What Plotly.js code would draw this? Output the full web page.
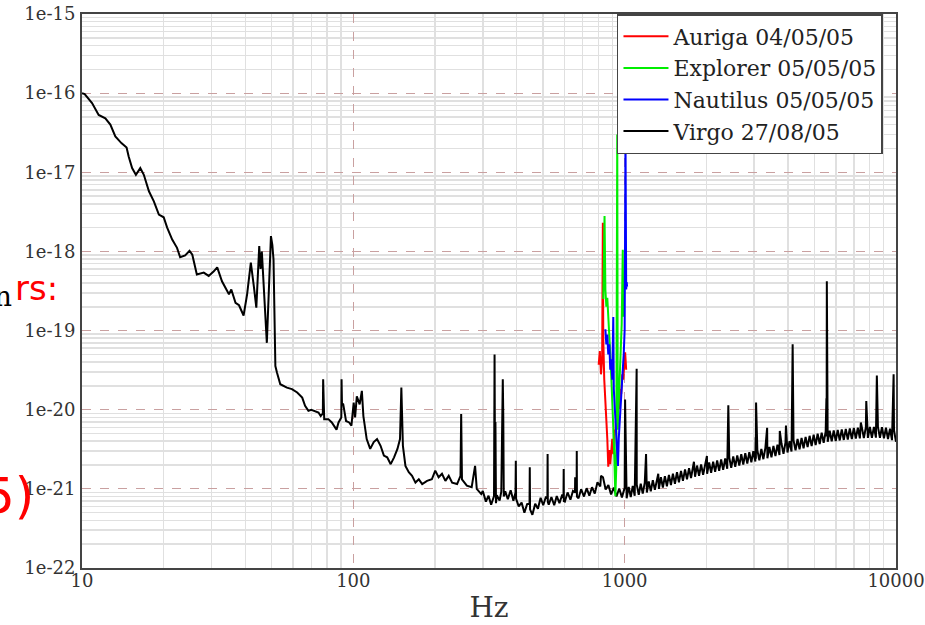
<!DOCTYPE html>
<html>
<head>
<meta charset="utf-8">
<script src="https://cdn.plot.ly/plotly-3.0.1.min.js"></script>
<style>
html,body{margin:0;padding:0;background:#fff;}
#chart{width:925px;height:625px;}
</style>
</head>
<body>
<div id="chart"></div>
<script>
// ---- Data ----
const seriesNames = ["Auriga 04/05/05", "Explorer 05/05/05", "Nautilus 05/05/05", "Virgo 27/08/05"];
const xTickVals = [10, 100, 1000, 10000];
const xTickText = ["10", "100", "1000", "10000"];
const yTickVals = [1e-22, 1e-21, 1e-20, 1e-19, 1e-18, 1e-17, 1e-16, 1e-15];
const yTickText = ["1e-22", "1e-21", "1e-20", "1e-19", "1e-18", "1e-17", "1e-16", "1e-15"];

// Virgo, 10-300 Hz  [Hz, strain]
const virgoLow = [
[10.0,1.0e-16],[10.23,9.7e-17],[10.89,7.5e-17],[11.52,5.3e-17],[12.19,4.8e-17],[12.72,4.0e-17],[13.27,2.84e-17],
[13.97,2.34e-17],[14.6,2.06e-17],[14.86,1.58e-17],[15.3,1.13e-17],[15.8,9.3e-18],[16.4,1.13e-17],[16.9,9.3e-18],
[17.65,5.75e-18],[18.4,4.3e-18],[19.2,2.92e-18],[20.0,2.7e-18],[20.6,2.0e-18],[21.5,1.41e-18],[22.4,1.11e-18],
[23.0,8.45e-19],[24.0,8.9e-19],[24.9,1.02e-18],[25.5,9.1e-19],[26.5,5.1e-19],[28.1,5.4e-19],[29.3,4.9e-19],
[30.6,5.6e-19],[31.5,6.3e-19],[32.8,4.2e-19],[34.8,2.87e-19],[35.5,3.3e-19],[36.8,2.24e-19],[37.9,2.09e-19],
[39.4,1.55e-19],[40.6,2.87e-19],[41.1,4.0e-19],[41.9,7.2e-19],[43.0,3.6e-19],[43.9,1.95e-19],[45.0,1.17e-18],
[45.5,6.0e-19],[46.0,1.0e-18],[48.0,7.0e-20],[49.7,1.56e-18],[50.3,1.2e-18],[50.8,7.9e-19],[51.6,3.56e-20],
[52.3,2.95e-20],[53.8,2.1e-20],[56.9,1.9e-20],[59.4,1.82e-20],[62.1,1.65e-20],[64.8,1.42e-20],[66.4,1.12e-20],
[68.3,9.7e-21],[70.0,1.0e-20],[72.1,9.7e-21],[74.4,9.2e-21],[75.8,8.3e-21],[77.2,9.0e-21],[77.4,2.43e-20],
[77.6,8.0e-21],[78.1,7.6e-21],[80.9,7.6e-21],[83.3,6.9e-21],[86.7,5.6e-21],[88.2,6.9e-21],[90.3,8.0e-21],
[90.5,2.43e-20],[90.8,1.2e-20],[91.8,1.17e-20],[94.0,7.2e-21],[96.5,6.9e-21],[98.4,6.3e-21],[100.3,1.23e-20],
[101.5,8.0e-21],[103.0,1.48e-20],[105.5,1.17e-20],[107.5,1.73e-20],[108.9,8.3e-21],[112,4.26e-21],[115.4,3.2e-21],
[118.9,3.9e-21],[122.3,4.26e-21],[126,3.5e-21],[129.6,2.63e-21],[133.3,2.5e-21],[137.3,2.05e-21],[141.3,2.5e-21],
[145.4,3.2e-21],[148.6,4.26e-21],[150.3,1.9e-20],[152.3,3.5e-21],[155.6,1.95e-21],[160.1,1.62e-21],[164.6,1.46e-21],
[169.4,1.2e-21],[174.3,1.32e-21],[179.4,1.15e-21],[186.9,1.26e-21],[194.7,1.32e-21],[200.4,1.7e-21],[206.2,1.4e-21],
[212.2,1.55e-21],[218.4,1.26e-21],[224.7,1.46e-21],[231.3,1.2e-21],[241.3,1.15e-21],[248.3,1.46e-21],[249.7,8.8e-21],
[251.4,1.32e-21],[262,1.1e-21],[273,1.05e-21],[281,1.95e-21],[285,1.0e-21],[296,8.6e-22]];

// Virgo, 300-1000 Hz
const virgoMid = [
[300,9.4e-22],[308,6.9e-22],[315,8.2e-22],[322,6.3e-22],[330,8.1e-22],[331.5,5.0e-20],[332.5,4.0e-21],[334,7.0e-21],
[335.5,6.6e-22],[338,8.3e-22],[346,7.1e-22],[351,9.2e-22],[352.5,8.5e-21],[354,6.0e-21],[355.5,2.43e-20],[357,8.0e-21],
[358.5,8.0e-22],[363,9.3e-22],[371,7.4e-22],[380,9.6e-22],[389,7.1e-22],[396,9.0e-22],[397,2.26e-21],[398,7.5e-22],
[407,6.0e-22],[417,6.7e-22],[427,5.0e-22],[437,6.4e-22],[446,6.5e-22],[447,1.87e-21],[448,5.5e-22],[457,4.7e-22],
[468,6.5e-22],[479,5.6e-22],[490,7.7e-22],[501,6.2e-22],[513,8.0e-22],[519,7.5e-22],[520,2.75e-21],[521,6.8e-22],
[525,6.3e-22],[537,7.9e-22],[550,6.2e-22],[562,8.1e-22],[575,6.6e-22],[589,8.5e-22],[595,7.6e-22],[596,1.78e-21],
[597,7.0e-22],[602,6.9e-22],[616,9.0e-22],[631,7.3e-22],[645,9.4e-22],[656,9.0e-22],[657,1.4e-21],[660,9.5e-22],
[665,8.8e-22],[666,3.0e-21],[667,8.0e-22],[676,7.6e-22],[691,9.9e-22],[708,8.0e-22],[724,1.02e-21],[741,8.2e-22],
[758,1.05e-21],[776,8.7e-22],[794,1.21e-21],[813,1.07e-21],[818,1.46e-21],[832,1.4e-21],[851,9.8e-22],[871,1.12e-21],
[891,8.5e-22],[912,1.04e-21],[933,8.0e-22],[955,1.01e-21],[977,7.8e-22]];

// Virgo, 1000-10000 Hz (noisy band plus lines)
const virgoHigh = [
[1000,1.03e-21],[1003.5,1.35e-20],[1017,7.6e-22],[1035,1.06e-21],[1053,7.9e-22],[1071,1.09e-21],[1089,8.2e-22],
[1107,3.3e-20],[1108,1.13e-21],[1127,8.4e-22],[1146,1.16e-21],[1166,8.7e-22],[1186,1.2e-21],[1199,2.75e-21],
[1207,9.0e-22],[1227,1.24e-21],[1248,9.3e-22],[1270,1.29e-21],[1292,9.7e-22],[1314,1.34e-21],[1330,1.55e-21],
[1337,1.0e-21],[1360,1.4e-21],[1383,1.04e-21],[1407,1.45e-21],[1431,1.08e-21],[1456,1.5e-21],[1481,1.12e-21],
[1506,1.56e-21],[1532,1.16e-21],[1559,1.62e-21],[1585,1.21e-21],[1613,1.69e-21],[1640,1.26e-21],[1669,1.76e-21],
[1697,1.32e-21],[1727,1.83e-21],[1756,1.37e-21],[1786,1.91e-21],[1800,2.2e-21],[1817,1.42e-21],[1848,1.97e-21],
[1880,1.46e-21],[1913,2.03e-21],[1946,1.51e-21],[1979,2.09e-21],[2010,2.6e-21],[2013,1.55e-21],[2048,2.15e-21],
[2083,1.6e-21],[2119,2.21e-21],[2155,1.64e-21],[2192,2.28e-21],[2230,1.69e-21],[2268,2.35e-21],[2307,1.74e-21],
[2347,2.42e-21],[2388,1.79e-21],[2410,1.14e-20],[2429,2.49e-21],[2470,1.85e-21],[2513,2.57e-21],[2556,1.9e-21],
[2600,2.65e-21],[2645,1.97e-21],[2690,2.74e-21],[2736,2.03e-21],[2783,2.82e-21],[2831,2.09e-21],[2880,2.91e-21],
[2930,2.16e-21],[2980,3.0e-21],[3031,2.22e-21],[3040,4.5e-21],[3045,2.4e-21],[3050,1.23e-20],[3083,3.09e-21],
[3136,2.29e-21],[3190,3.19e-21],[3245,2.37e-21],[3301,3.3e-21],[3350,5.9e-21],[3358,2.44e-21],[3416,3.39e-21],
[3475,2.51e-21],[3534,3.49e-21],[3595,2.59e-21],[3657,3.62e-21],[3720,2.68e-21],[3730,5.4e-21],[3784,3.74e-21],
[3849,2.78e-21],[3915,3.87e-21],[3930,6.3e-21],[3982,2.88e-21],[4051,4.0e-21],[4120,2.97e-21],[4160,6.7e-20],
[4191,4.12e-21],[4263,3.06e-21],[4337,4.26e-21],[4411,3.16e-21],[4487,4.4e-21],[4564,3.26e-21],[4643,4.54e-21],
[4723,3.37e-21],[4804,4.68e-21],[4887,3.47e-21],[4971,4.82e-21],[5056,3.57e-21],[5143,4.97e-21],[5232,3.69e-21],
[5322,5.14e-21],[5413,3.81e-21],[5506,5.3e-21],[5540,1.4e-20],[5550,4.6e-21],[5560,4.2e-19],[5601,3.93e-21],
[5697,5.42e-21],[5795,3.98e-21],[5895,5.49e-21],[5996,4.03e-21],[6099,5.56e-21],[6204,4.09e-21],[6311,5.63e-21],
[6420,4.15e-21],[6530,5.73e-21],[6642,4.21e-21],[6757,5.8e-21],[6873,4.26e-21],[6991,5.87e-21],[7111,4.32e-21],
[7234,5.93e-21],[7358,4.35e-21],[7420,6.9e-21],[7485,5.98e-21],[7613,4.38e-21],[7744,6.03e-21],[7770,1.29e-20],
[7877,4.41e-21],[8013,6.05e-21],[8151,4.43e-21],[8291,6.07e-21],[8433,4.44e-21],[8500,2.7e-20],[8578,6.07e-21],
[8726,4.42e-21],[8876,6.01e-21],[9029,4.36e-21],[9184,5.91e-21],[9342,4.26e-21],[9503,5.74e-21],[9666,4.12e-21],
[9800,2.8e-20],[9832,5.52e-21],[10000,3.93e-21]];

const aurigaF = [802,810,818,826,831,834,841,849,856,863,870,878,885,893,900,908,916,924,931,939,947,955,963,971,980,988,996,1004,1013];
const aurigaH = [3.7e-20,5.5e-20,2.8e-20,4.35e-20,2.3e-18,7.8e-20,2.4e-20,1.35e-20,7.6e-21,4.3e-21,1.9e-21,3.1e-21,2.05e-21,3.1e-21,4.3e-21,2.75e-21,5.6e-21,4.9e-21,8.8e-21,6.6e-21,1.35e-20,1.02e-20,1.82e-20,1.58e-20,2.8e-20,2.4e-20,4.35e-20,5.3e-20,3.2e-20];

const explorerF = [834,838,843,849,856,863,870,878,885,893,900,908,916,924,931,939,943,951,959,967,975,984,988,992];
const explorerH = [2.5e-19,5.9e-19,2.8e-18,3.3e-19,2.0e-19,2.6e-19,1.3e-19,8.0e-20,5.0e-20,2.5e-20,1.5e-20,6.0e-21,2.5e-21,8.1e-22,1.78e-21,3.0e-17,5.6e-21,1.35e-20,3.2e-20,6.7e-20,1.2e-19,1.05e-18,1.5e-19,2.0e-19];

const nautilusF = [849,856,863,870,878,885,893,900,908,912,920,928,935,945,951,959,967,975,984,992,1000,1007,1013,1017,1021];
const nautilusH = [1.04e-19,6.7e-20,8.9e-20,5.0e-20,6.7e-20,3.2e-20,4.35e-20,2.4e-20,1.48e-19,1.82e-20,1.02e-20,5.6e-21,3.1e-21,1.95e-21,4.3e-21,7.6e-21,1.35e-20,2.1e-20,3.2e-20,5.0e-20,1.04e-19,3.0e-17,3.3e-19,4.1e-19,3.6e-19];

const virgoAll = virgoLow.concat(virgoMid, virgoHigh);
const virgoF = virgoAll.map(p => p[0]);
const virgoH = virgoAll.map(p => p[1]);

// ---- minor grid positions (axis styling) ----
const xMinor = [], yMinor = [];
for (let d = 10; d < 10000; d *= 10) for (let m = 2; m <= 9; m++) xMinor.push(m * d);
for (let e = -22; e < -15; e++) for (let m = 2; m <= 9; m++) yMinor.push(m * Math.pow(10, e));

const serif = "DejaVu Serif, serif";

const traces = [
  {x: virgoF, y: virgoH, name: seriesNames[3], type: "scatter", mode: "lines",
   line: {color: "#000000", width: 2}, legendrank: 4},
  {x: aurigaF, y: aurigaH, name: seriesNames[0], type: "scatter", mode: "lines",
   line: {color: "#ff0000", width: 2}, legendrank: 1},
  {x: explorerF, y: explorerH, name: seriesNames[1], type: "scatter", mode: "lines",
   line: {color: "#00ee00", width: 2}, legendrank: 2},
  {x: nautilusF, y: nautilusH, name: seriesNames[2], type: "scatter", mode: "lines",
   line: {color: "#0000ff", width: 2}, legendrank: 3}
];

const layout = {
  width: 925, height: 625,
  margin: {l: 82, r: 29, t: 14, b: 57},
  paper_bgcolor: "#ffffff", plot_bgcolor: "#ffffff",
  showlegend: true,
  xaxis: {
    type: "log", range: [1, 4],
    tickvals: xTickVals, ticktext: xTickText,
    ticks: "", ticklabelstandoff: -5,
    tickfont: {family: serif, size: 18, color: "#333"},
    showgrid: true, gridcolor: "#c9a0a0", griddash: "dash", gridwidth: 1.2,
    minor: {tickvals: xMinor, showgrid: true, gridcolor: "#e0e0e0", gridwidth: 1.5, griddash: "solid", ticks: ""},
    showline: true, linecolor: "#444", linewidth: 2, mirror: true,
    zeroline: false, automargin: false,
    title: {text: "Hz", font: {family: serif, size: 28, color: "#333"}, standoff: 8}
  },
  yaxis: {
    type: "log", range: [-22, -15],
    tickvals: yTickVals, ticktext: yTickText,
    ticks: "", ticklabelstandoff: 1,
    tickfont: {family: serif, size: 18, color: "#333"},
    showgrid: true, gridcolor: "#c9a0a0", griddash: "dash", gridwidth: 1.2,
    minor: {tickvals: yMinor, showgrid: true, gridcolor: "#e0e0e0", gridwidth: 1.5, griddash: "solid", ticks: ""},
    showline: true, linecolor: "#444", linewidth: 2, mirror: true,
    zeroline: false, automargin: false
  },
  legend: {
    x: 0.984, y: 1, xanchor: "right", yanchor: "top",
    bgcolor: "#ffffff", bordercolor: "#444", borderwidth: 1.5,
    font: {family: serif, size: 22, color: "#222"},
    itemwidth: 45, tracegroupgap: 0
  },
  annotations: [
    {xref: "paper", yref: "paper", x: -0.083, y: 0.49, xanchor: "right", yanchor: "middle",
     text: "n", showarrow: false, font: {family: serif, size: 28, color: "#000"}},
    {xref: "paper", yref: "paper", x: -0.085, y: 0.505, xanchor: "left", yanchor: "middle",
     text: "rs:", showarrow: false, font: {family: "DejaVu Sans", size: 34, color: "#ff0000"}},
    {xref: "paper", yref: "paper", x: -0.056, y: 0.13, xanchor: "right", yanchor: "middle",
     text: "5)", showarrow: false, font: {family: "DejaVu Sans", size: 50, color: "#ff0000"}}
  ]
};

Plotly.newPlot("chart", traces, layout, {displayModeBar: false, staticPlot: true});
</script>
</body>
</html>
